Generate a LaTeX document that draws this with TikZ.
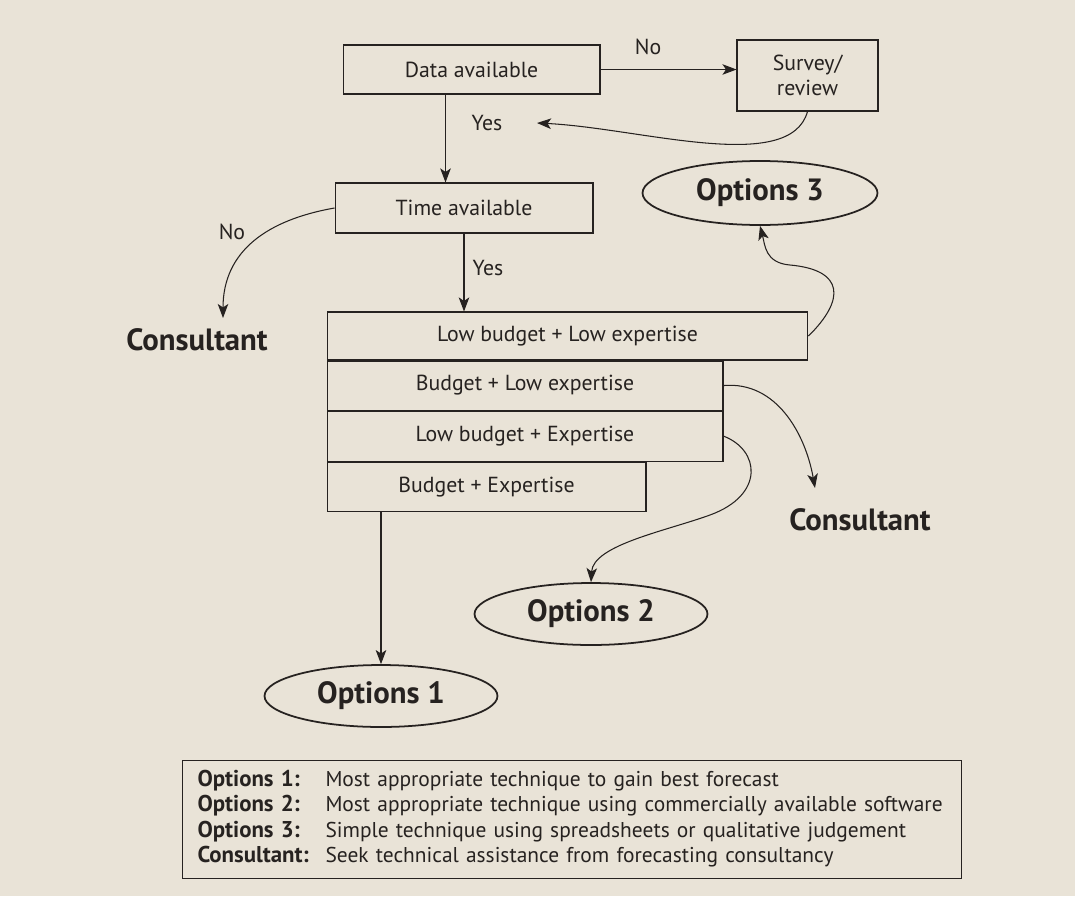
\documentclass[tikz,border=0pt]{standalone}
\usepackage{fontspec}
\setmainfont{PT Sans}
\usepackage{xcolor}
\usetikzlibrary{arrows.meta,positioning,shapes.geometric}
\definecolor{paper}{RGB}{233,227,215}
\definecolor{ink}{RGB}{38,34,32}

\begin{document}
\begin{tikzpicture}[x=0.02cm, y=-0.02cm,
  box/.style={draw=ink, line width=0.6pt, align=center, inner sep=0pt, font=\fontsize{12.4}{14.2}\selectfont},
  tier/.style={box, anchor=north west},
  outcome/.style={ellipse, draw=ink, line width=1pt, inner sep=0pt, minimum width=4.66cm, minimum height=1.24cm, font=\fontsize{17.5}{19}\selectfont\bfseries},
  target/.style={font=\fontsize{17.5}{19}\selectfont\bfseries},
  lbl/.style={font=\fontsize{12.4}{14}\selectfont},
  arr/.style={draw=ink, line width=0.6pt, -{Stealth[length=8pt,width=6pt,inset=2pt]}},
  every node/.style={text=ink}
]
  \fill[paper] (0,0) rectangle (1075,896);
  \useasboundingbox (0,0) rectangle (1075,896);

  % decision boxes
  \node[box, minimum width=5.14cm, minimum height=0.98cm] (data) at (471.5,69.5) {Data available};
  \node[box, minimum width=2.82cm, minimum height=1.42cm] (survey) at (807.5,75.5) {Survey/\\review};
  \node[box, minimum width=5.16cm, minimum height=1.0cm] (time) at (464,208) {Time available};

  % stacked budget / expertise rows
  \node[box, minimum width=9.62cm, minimum height=0.96cm] (row1) at (567.5,336) {Low budget + Low expertise};
  \node[tier, minimum width=7.92cm, minimum height=0.98cm] (row2) at (row1.south west) {Budget + Low expertise};
  \node[tier, minimum width=7.92cm, minimum height=1.0cm] (row3) at (row2.south west) {Low budget + Expertise};
  \node[tier, minimum width=6.38cm, minimum height=0.98cm] (row4) at (row3.south west) {Budget + Expertise};

  % outcomes
  \node[outcome, minimum width=4.7cm, minimum height=1.28cm] (opt3) at (760,193) {Options 3};
  \node[outcome] (opt2) at (591,614) {Options 2};
  \node[outcome] (opt1) at (381,696) {Options 1};
  \node[target] (consL) at (197,340) {Consultant};
  \node[target] (consR) at (860,520) {Consultant};

  % branch labels
  \node[lbl] (noData) at (648,47) {No};
  \node[lbl] (yesData) at (487,123) {Yes};
  \node[lbl] (noTime) at (232,232) {No};
  \node[lbl] (yesTime) at (488,268) {Yes};

  \coordinate (yestip) at (537,123);
  \coordinate (leftin) at (223,318);
  \coordinate (rightin) at (815,488);

  % connectors
  \draw[arr] (data.east) -- (data.east -| survey.west);
  \draw[arr] ([xshift=-0.52cm]data.south) -- ([xshift=-0.52cm]data.south |- time.north);
  \draw[arr] (survey.south) .. controls (790,175) and (640,128) .. (yestip);
  \draw[arr] (time.west) to[out=190,in=90,looseness=1.1] (leftin);
  \draw[arr] (time.south) -- (time.south |- row1.north);
  \draw[arr] (row1.east) .. controls (845,300) and (845,270) .. (790,265)
    .. controls (765,263) and (765,245) .. (opt3.south);
  \draw[arr] (row2.east) to[out=5,in=100] (rightin);
  \draw[arr] (row3.east) .. controls (760,450) and (765,495) .. (710,515)
    .. controls (666,531) and (593,545) .. (opt2.north);
  \draw[arr] (row4.south -| opt1.north) -- (opt1.north);

  % key
  \node[draw=ink, line width=0.6pt, anchor=north west, text width=14.98cm, inner xsep=0.3cm, inner ysep=0.16cm, align=left,
    font=\fontsize{12.2}{14.5}\selectfont] (key) at (182,760) {%
    \begin{tabular}{@{}p{2.56cm}@{}l@{}}
      \textbf{\fontsize{13}{14.5}\selectfont Options 1:} & Most appropriate technique to gain best forecast\\
      \textbf{\fontsize{13}{14.5}\selectfont Options 2:} & Most appropriate technique using commercially available software\\
      \textbf{\fontsize{13}{14.5}\selectfont Options 3:} & Simple technique using spreadsheets or qualitative judgement\\
      \textbf{\fontsize{13}{14.5}\selectfont Consultant:} & Seek technical assistance from forecasting consultancy
    \end{tabular}};
\end{tikzpicture}
\end{document}
